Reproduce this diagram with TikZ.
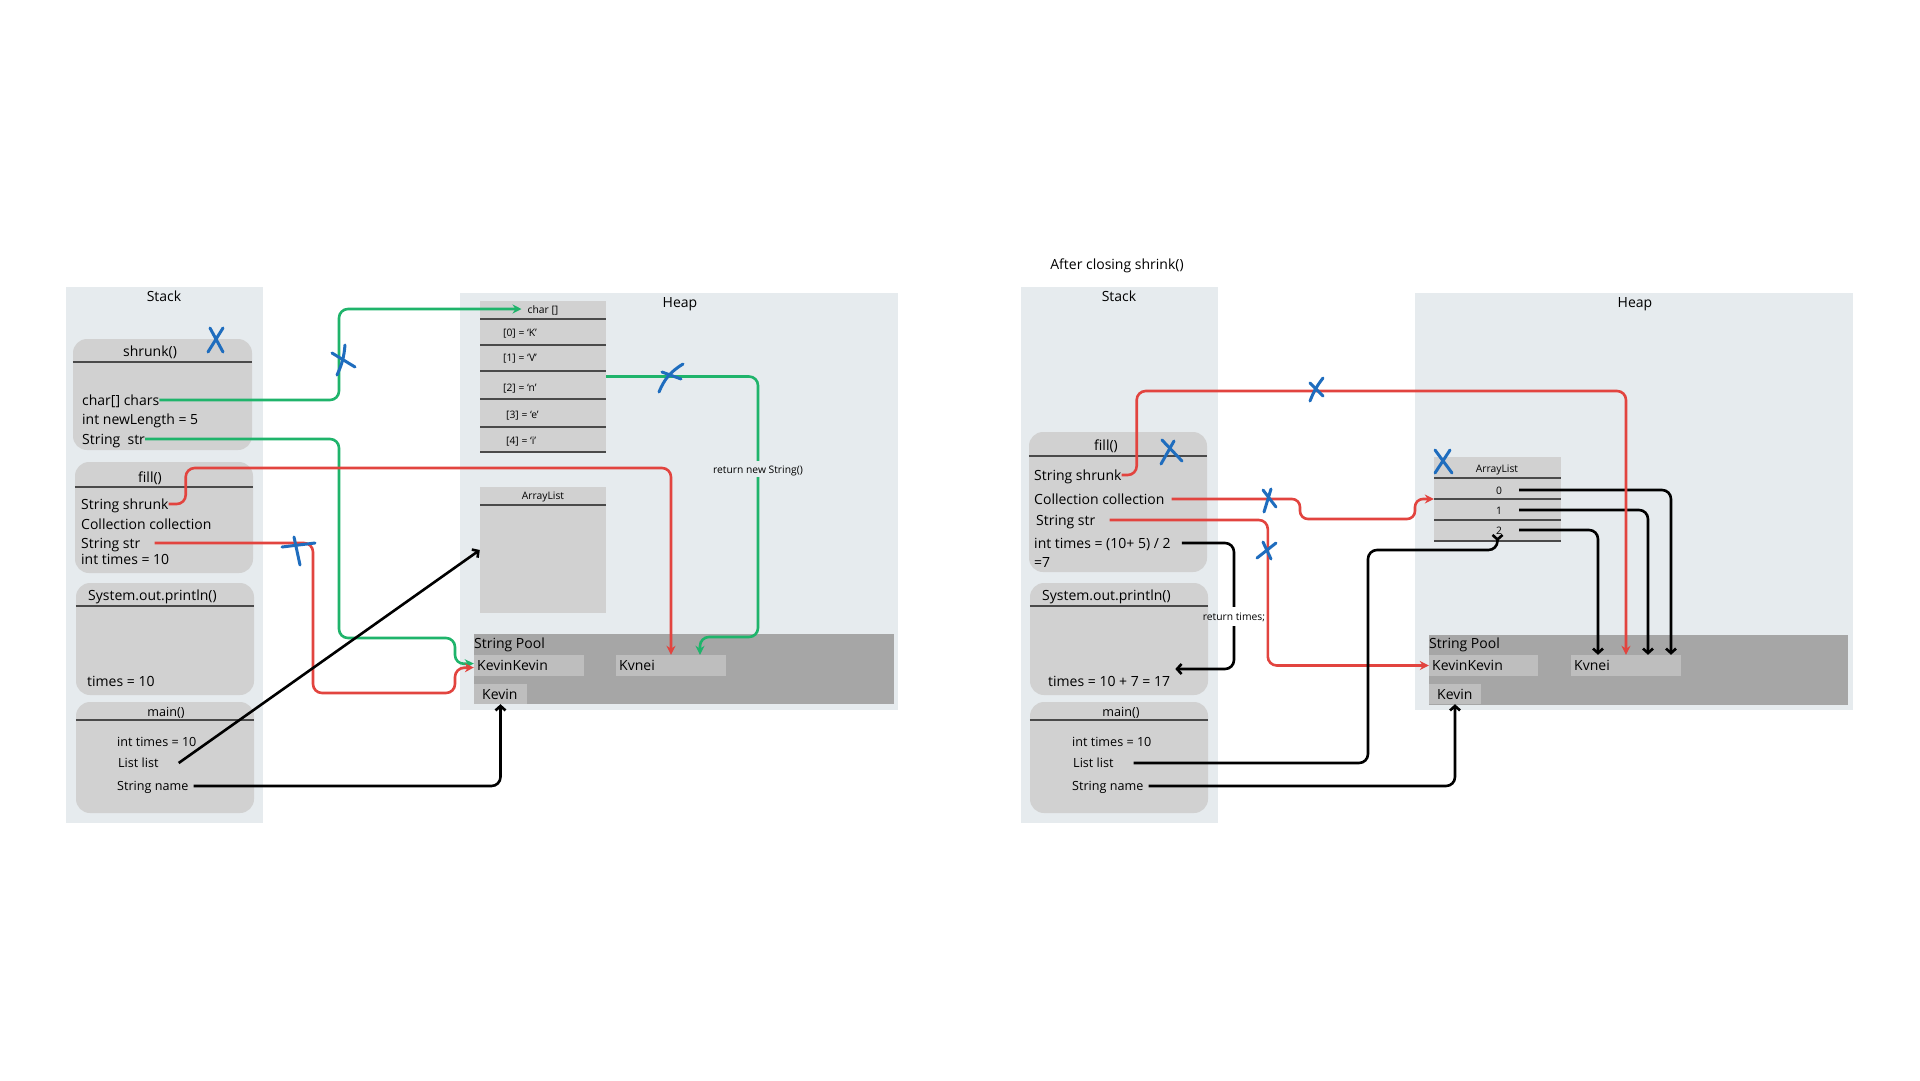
\documentclass[tikz,border=0pt]{standalone}
\usepackage{fontspec}
\setmainfont{Open Sans}
\usetikzlibrary{arrows.meta,calc}
\definecolor{panelc}{HTML}{E6EBEE}
\definecolor{boxc}{HTML}{D1D1D1}
\definecolor{poolc}{HTML}{A6A6A6}
\definecolor{itemc}{HTML}{BEBEBE}
\definecolor{hlc}{HTML}{4A4A4A}
\definecolor{redc}{HTML}{E2443F}
\definecolor{greenc}{HTML}{1FB46B}
\definecolor{bluec}{HTML}{1F6DBE}
\tikzset{
  txt/.style={inner sep=0pt, font=\fontsize{14}{17}\selectfont, text height=13pt, text depth=3pt},
  mtxt/.style={inner sep=0pt, font=\fontsize{12.6}{15}\selectfont, text height=12.5pt, text depth=3pt},
  smalltxt/.style={inner sep=0pt, font=\fontsize{10.3}{12}\selectfont, text height=10pt, text depth=2pt},
  sbox/.style={fill=boxc, rounded corners=14pt, inner sep=0pt},
  hbox/.style={fill=boxc, inner sep=0pt},
  poolbox/.style={fill=poolc, inner sep=0pt},
  itembox/.style={fill=itemc, inner sep=0pt},
  hline/.style={draw=hlc, line width=1.4pt},
  conn/.style={line width=2.6pt, rounded corners=9pt},
  gconn/.style={conn, draw=greenc, -{Stealth[length=9pt,width=9pt]}},
  rconn/.style={conn, draw=redc, -{Stealth[length=9pt,width=9pt]}},
  kconn/.style={conn, draw=black, -{Straight Barb[length=4.5pt,width=10pt]}},
  bx/.style={draw=bluec, line width=3pt, line cap=round},
}
\begin{document}
\begin{tikzpicture}[x=1pt,y=-1pt]
\useasboundingbox[fill=white] (0,0) rectangle (1920,1080);

% ================= LEFT =================
\fill[panelc] (66,287) rectangle (263,823);
\fill[panelc] (460,293) rectangle (898,710);
\node[txt] (stackL) at (164,296) {Stack};
\node[txt] (heapL) at (680,302) {Heap};

% stack frames
\node[sbox, minimum width=179pt, minimum height=111pt] (bshr) at (162.5,394.5) {};
\draw[hline] ($(bshr.north west)+(0,23)$) -- ($(bshr.north east)+(0,23)$);
\node[sbox, minimum width=178pt, minimum height=111pt] (bfill) at (164,517.5) {};
\draw[hline] ($(bfill.north west)+(0,25)$) -- ($(bfill.north east)+(0,25)$);
\node[sbox, minimum width=178pt, minimum height=112pt] (bprint) at (165,639) {};
\draw[hline] ($(bprint.north west)+(0,23)$) -- ($(bprint.north east)+(0,23)$);
\node[sbox, minimum width=178pt, minimum height=111pt] (bmain) at (165,757.5) {};
\draw[hline] ($(bmain.north west)+(0,18)$) -- ($(bmain.north east)+(0,18)$);

\node[txt] (tshrT) at (150,351) {shrunk()};
\node[txt, anchor=west] (tchars) at (82,400) {char[] chars};
\node[txt, anchor=west] (tnl) at (82,419) {int newLength = 5};
\node[txt, anchor=west] (tstr) at (82,439) {String~ str};
\node[txt] (tfillT) at (150,477) {fill()};
\node[txt, anchor=west] (tshrunk) at (81,504) {String shrunk};
\node[txt, anchor=west] (tcoll) at (81,524) {Collection collection};
\node[txt, anchor=west] (tstrb) at (81,543) {String str};
\node[txt, anchor=west] (ttimes) at (81,559) {int times = 10};
\node[txt, anchor=west] (tprintT) at (88,595) {System.out.println()};
\node[txt, anchor=west] (tres) at (87,681) {times = 10};
\node[mtxt] (tmainT) at (166,712) {main()};
\node[mtxt, anchor=west] (tmt) at (117,742) {int times = 10};
\node[mtxt, anchor=west] (tlist) at (118,763) {List list};
\node[mtxt, anchor=west] (tname) at (117,786) {String name};

% char[] object
\node[hbox, minimum width=126pt, minimum height=151pt] (chr) at (543,376.5) {};
\foreach \yy in {319,345,371,399,427,452}
  \draw[hline] (480,\yy) -- (606,\yy);
\node[smalltxt] (charlbl) at (543,309) {char []};
\node[smalltxt, anchor=west] (c0) at (503,332) {[0] = ‘K’};
\node[smalltxt, anchor=west] (c1) at (503,357) {[1] = ‘V’};
\node[smalltxt, anchor=west] (c2) at (503,387) {[2] = ‘n’};
\node[smalltxt, anchor=west] (c3) at (506,414) {[3] = ‘e’};
\node[smalltxt, anchor=west] (c4) at (506,440) {[4] = ‘i’};

% ArrayList object
\node[hbox, minimum width=126pt, minimum height=126pt] (al) at (543,550) {};
\draw[hline] (480,505) -- (606,505);
\node[smalltxt] (altxt) at (543,495) {ArrayList};

% String pool
\node[poolbox, minimum width=420pt, minimum height=70pt] (sp) at (684,669) {};
\node[txt, anchor=west] (sptxt) at (474,643) {String Pool};
\node[itembox, minimum width=110pt, minimum height=21pt] (kk) at (529,665.5) {};
\node[txt, anchor=west] at (477,665.5) (kktxt) {KevinKevin};
\node[itembox, minimum width=110pt, minimum height=21pt] (kv) at (671,665.5) {};
\node[txt, anchor=west] at (619,665.5) (kvtxt) {Kvnei};
\node[itembox, minimum width=53pt, minimum height=20pt] (kev) at (500.5,694) {};
\node[txt, anchor=west] at (482,694) (kevtxt) {Kevin};

% connectors (left)
\draw[gconn] (tchars.east) -| (339,309) -- ([xshift=-6pt]charlbl.west);
\draw[gconn] (tstr.east) -| (339,638) -- (455,638) -- (455,664) -- ([yshift=2pt]kk.west);
\draw[rconn] (tshrunk.east) -- ++(17,0) -- ++(0,-36) -| (kv.north);
\draw[rconn] ([xshift=14pt]tstrb.east) -| (313,693) -- (455,693) -- (455,668) -- ([yshift=-2pt]kk.west);
\draw[gconn] (chr.east) -| (758,637) -| ([xshift=29pt]kv.north);
\node[smalltxt, fill=panelc, inner sep=2pt] (rns) at (758,469) {return new String()};
\draw[kconn, rounded corners=0pt] ([xshift=20pt]tlist.east) -- (al.west);
\draw[kconn] ([xshift=5pt]tname.east) -| (kev.south);

% blue crosses (left)
\draw[bx] (210,328) -- (223,352);
\draw[bx] (223,328) -- (208,352);
\draw[bx] (332,353) -- (355,367);
\draw[bx] (345,345) to[bend left=10] (337,375);
\draw[bx] (282,547) -- (315,543);
\draw[bx] (294,537) -- (300,565);
\draw[bx] (659,392) to[bend left=18] (683,364);
\draw[bx] (662,372) -- (681,379);

% ================= RIGHT =================
\node[txt] (title) at (1117,264) {After closing shrink()};
\fill[panelc] (1021,287) rectangle (1218,823);
\fill[panelc] (1415,293) rectangle (1853,710);
\node[txt] (stackR) at (1119,296) {Stack};
\node[txt] (heapR) at (1635,302) {Heap};

\node[sbox, minimum width=178pt, minimum height=140pt] (rfill) at (1118,502) {};
\draw[hline] ($(rfill.north west)+(0,24)$) -- ($(rfill.north east)+(0,24)$);
\node[sbox, minimum width=178pt, minimum height=112pt] (rprint) at (1119,639) {};
\draw[hline] ($(rprint.north west)+(0,23)$) -- ($(rprint.north east)+(0,23)$);
\node[sbox, minimum width=178pt, minimum height=111pt] (rmain) at (1119,757.5) {};
\draw[hline] ($(rmain.north west)+(0,18)$) -- ($(rmain.north east)+(0,18)$);

\node[txt] (rfillT) at (1106,445) {fill()};
\node[txt, anchor=west] (rshrunk) at (1034,475) {String shrunk};
\node[txt, anchor=west] (rcoll) at (1034,499) {Collection collection};
\node[txt, anchor=west] (rstr) at (1036,520) {String str};
\node[txt, anchor=west] (rtimes) at (1034,543) {int times = (10+ 5) / 2};
\node[txt, anchor=west] (rseven) at (1034,562) {=7};
\node[txt, anchor=west] (rprintT) at (1042,595) {System.out.println()};
\node[txt, anchor=west] (rres) at (1048,681) {times = 10 + 7 = 17};
\node[mtxt] (rmainT) at (1121,712) {main()};
\node[mtxt, anchor=west] (rmt) at (1072,742) {int times = 10};
\node[mtxt, anchor=west] (rlist) at (1073,763) {List list};
\node[mtxt, anchor=west] (rname) at (1072,786) {String name};

% ArrayList (right)
\node[hbox, minimum width=127pt, minimum height=84pt] (al2) at (1497.5,499) {};
\foreach \yy in {478,499,520,541}
  \draw[hline] (1434,\yy) -- (1561,\yy);
\node[smalltxt] (al2txt) at (1497,468) {ArrayList};
\node[smalltxt] (r0) at (1499,490) {0};
\node[smalltxt] (r1) at (1499,510) {1};
\node[smalltxt] (r2) at (1499,530) {2};

% String pool (right)
\node[poolbox, minimum width=419pt, minimum height=70pt] (sp2) at (1638.5,670) {};
\node[txt, anchor=west] (sp2txt) at (1429,643) {String Pool};
\node[itembox, minimum width=109pt, minimum height=21pt] (kk2) at (1483.5,665.5) {};
\node[txt, anchor=west] at (1432,665.5) (kk2txt) {KevinKevin};
\node[itembox, minimum width=110pt, minimum height=21pt] (kv2) at (1626,665.5) {};
\node[txt, anchor=west] at (1574,665.5) (kv2txt) {Kvnei};
\node[itembox, minimum width=52pt, minimum height=20pt] (kev2) at (1455,694) {};
\node[txt, anchor=west] at (1437,694) (kev2txt) {Kevin};

% connectors (right)
\draw[kconn] ([xshift=20pt]r0.center) -| ([xshift=45pt]kv2.north);
\draw[kconn] ([xshift=20pt]r1.center) -| ([xshift=22pt]kv2.north);
\draw[kconn] ([xshift=20pt]r2.center) -| ([xshift=-28pt]kv2.north);
\draw[rconn] (rshrunk.east) -- ++(15,0) -- ++(0,-84) -| (kv2.north);
\draw[rconn, rounded corners=8pt] ([xshift=7pt]rcoll.east) -- (1300,499) -- (1300,519) -- (1415,519) -- (1415,499) -- (al2.west);
\draw[rconn] ([xshift=14pt]rstr.east) -| ([xshift=-161pt]kk2.west) -- (kk2.west);
\draw[kconn] ([xshift=11pt]rtimes.east) -- (1234,543) |- ([xshift=5pt,yshift=12pt]rres.east);
\node[fill=white, inner sep=0pt, minimum width=8pt, minimum height=19pt] (gap) at (1234,616) {};
\node[smalltxt] (rtl) at (1234,616) {return times;};
\draw[kconn] ([xshift=20pt]rlist.east) -| (1368,550) -| (al2.south);
\draw[kconn] ([xshift=5pt]rname.east) -| (kev2.south);

% blue crosses (right)
\draw[bx] (1162,440) -- (1182,461);
\draw[bx] (1174,441) -- (1161,464);
\draw[bx] (1310,383) -- (1323,396);
\draw[bx] (1323,378) to[bend right=8] (1310,401);
\draw[bx] (1263,490) -- (1276,507);
\draw[bx] (1271,489) -- (1264,512);
\draw[bx] (1257,558) -- (1276,543);
\draw[bx] (1263,542) -- (1271,559);
\draw[bx] (1435,450) -- (1452,473);
\draw[bx] (1450,450) -- (1435,473);
\end{tikzpicture}
\end{document}
